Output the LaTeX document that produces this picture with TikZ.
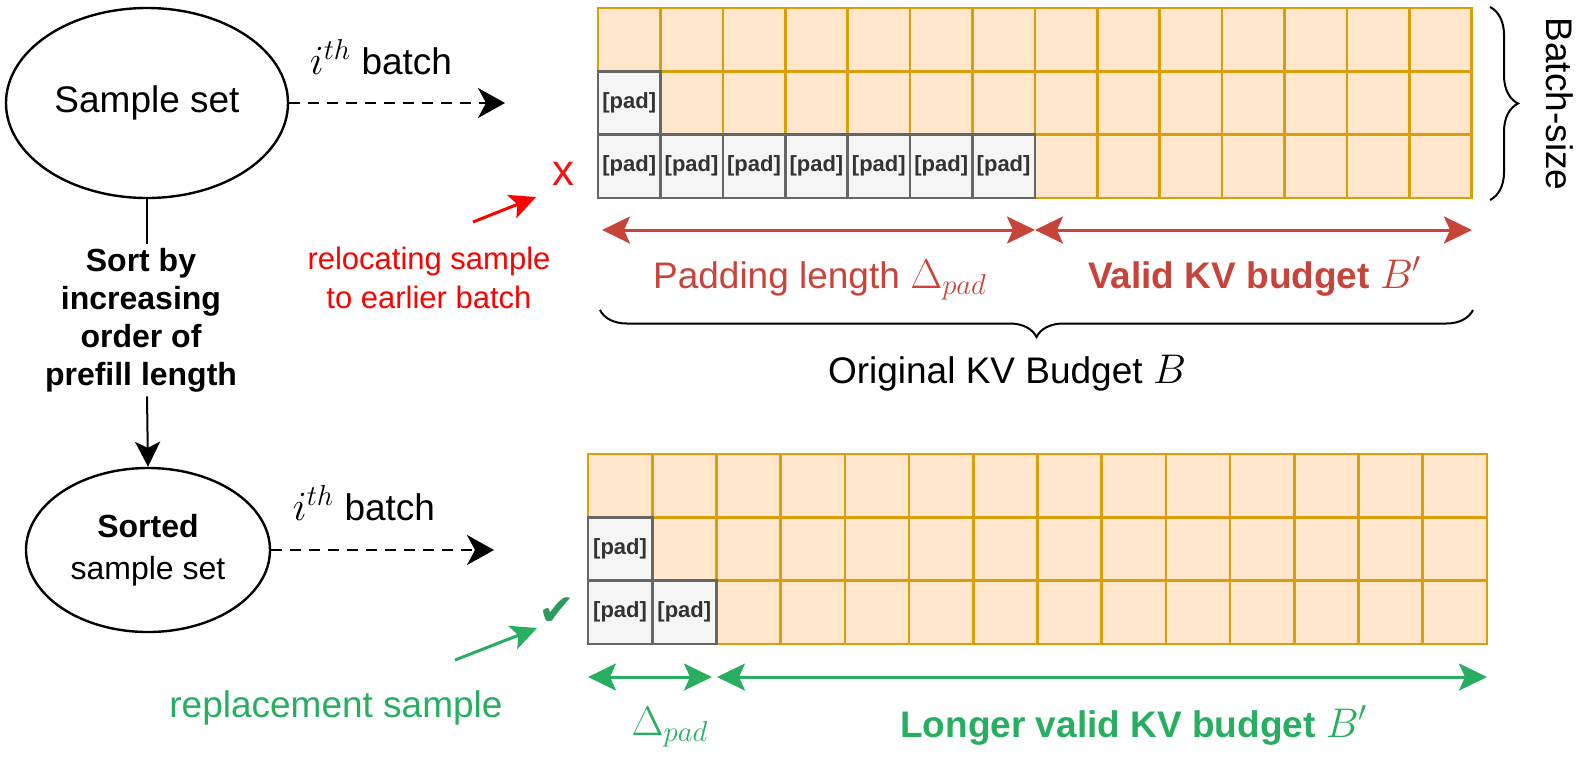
\documentclass[tikz,border=0pt]{standalone}
\usepackage[no-math]{fontspec}
\setmainfont{Liberation Sans}
\newfontfamily\symfont{DejaVu Sans}
\usetikzlibrary{arrows.meta,shapes.geometric,decorations.pathreplacing}

\definecolor{kvfill}{HTML}{FFE6CC}
\definecolor{kvline}{HTML}{D99E08}
\definecolor{padfill}{HTML}{F5F5F5}
\definecolor{padline}{HTML}{666666}
\definecolor{padtext}{HTML}{333333}
\definecolor{dimred}{HTML}{C8443A}
\definecolor{xred}{HTML}{F01515}
\definecolor{okgreen}{HTML}{27AE60}
\definecolor{tickgreen}{HTML}{2E9A5E}

% math in the labels is set a bit larger than the text
\newcommand{\kvmath}[1]{{\fontsize{22}{26}\selectfont$#1$}}

\begin{document}
\begin{tikzpicture}[x=0.5pt,y=-0.5pt,
  kvcell/.style={draw=kvline, fill=kvfill, line width=1.3pt, minimum width=#1,
    minimum height=31.65pt, inner sep=0pt, outer sep=0pt},
  padcell/.style={kvcell=#1, draw=padline, fill=padfill, text=padtext,
    font=\fontsize{11}{12}\selectfont\bfseries},
  bigtext/.style={font=\fontsize{18.5}{22}\selectfont},
  setnode/.style={ellipse, draw, line width=1.2pt, inner sep=0pt, align=center},
  batcharrow/.style={-{Stealth[length=13.5pt,width=15pt,inset=4pt]}, line width=1.25pt,
    dash pattern=on 5.5pt off 4pt},
  dimarrow/.style={{Stealth[length=14pt,width=13.5pt,inset=3pt]}-{Stealth[length=14pt,width=13.5pt,inset=3pt]},
    line width=1.5pt},
  ptr/.style={-{Stealth[length=13pt,width=12.5pt,inset=3pt]}, line width=1.5pt},
  bracket/.style={decorate, decoration={brace, amplitude=#1}, line width=1pt}]
\useasboundingbox (0,0) rectangle (1588,757);

% sample sets on the left
\node[setnode, minimum width=141pt, minimum height=95pt, bigtext] (sample) at (147,103) {Sample set};
\node[setnode, minimum width=122pt, minimum height=82pt, font=\fontsize{16}{21}\selectfont]
  (sorted) at (148,550) {\textbf{Sorted}\\sample set};
\node[font=\fontsize{16}{19}\selectfont\bfseries, align=center, fill=white, inner sep=2pt]
  (sortlbl) at (141,320) {Sort by\\increasing\\order of\\prefill length};
\draw[line width=1pt] (sample.south) -- (sample.south |- sortlbl.north);
\draw[line width=1pt, -{Stealth[length=12.5pt,width=12.5pt,inset=3pt]}]
  (sample.south |- sortlbl.south) -- (sorted.north);

\coordinate (in1) at (505,103);
\draw[batcharrow] (sample.east) -- (in1);
\node[bigtext] (batch1) at (381,57) {\kvmath{i^{th}} batch};
\coordinate (in2) at (494,550);
\draw[batcharrow] (sorted.east) -- (in2);
\node[bigtext] (batch2) at (364,503) {\kvmath{i^{th}} batch};

% original batch
\foreach \r in {1,2,3}
  \foreach \c in {0,...,13}
    \node[kvcell=31.2pt] (orig \r-\c) at ({629.2+62.4*\c},{63.3*\r-23.65}) {};
\node[padcell=31.2pt] (opad 2-0) at (629.2,102.95) {[pad]};
\foreach \c in {0,...,6}
  \node[padcell=31.2pt] (opad 3-\c) at ({629.2+62.4*\c},166.25) {[pad]};

\draw[bracket=14pt] (1490,7) -- (1490,200);
\node[bigtext, rotate=-90] (bsize) at (1560,104) {Batch-size};

\coordinate (padL) at (602,230);
\coordinate (padR) at (1035,230);
\coordinate (validR) at (1472,230);
\draw[dimarrow, dimred] (padL) -- (padR);
\draw[dimarrow, dimred] (padR) -- (validR);
\node[bigtext, text=dimred, anchor=base] (padlen) at (820,288) {Padding length \kvmath{\Delta_{pad}}};
\node[bigtext, text=dimred, anchor=base] (valid) at (1255,288) {\textbf{Valid KV budget} \kvmath{B'}};
\draw[bracket=13.5pt] (1473,310) -- (600,310);
\node[bigtext, anchor=base] (budget) at (1007,383) {Original KV Budget \kvmath{B}};

\node[text=xred, font=\fontsize{22}{24}\selectfont, inner sep=1pt] (fail) at (563,174) {x};
\coordinate (relocTail) at (473,222);
\coordinate (relocHead) at (536,197);
\draw[ptr, red] (relocTail) -- (relocHead);
\node[text=red, font=\fontsize{15.5}{19.5}\selectfont, align=center] (reloc) at (429,278)
  {relocating sample\\to earlier batch};

% sorted batch
\foreach \r in {1,2,3}
  \foreach \c in {0,...,13}
    \node[kvcell=32.1pt] (sort \r-\c) at ({620.1+64.2*\c},{422.35+63.3*\r}) {};
\node[padcell=32.1pt] (spad 2-0) at (620.1,548.95) {[pad]};
\foreach \c in {0,1}
  \node[padcell=32.1pt] (spad 3-\c) at ({620.1+64.2*\c},612.25) {[pad]};

\coordinate (dpadL) at (588,677);
\coordinate (dpadR) at (712,677);
\coordinate (longL) at (717,677);
\coordinate (longR) at (1487,677);
\draw[dimarrow, okgreen] (dpadL) -- (dpadR);
\draw[dimarrow, okgreen] (longL) -- (longR);
\node[bigtext, text=okgreen, anchor=base] (dpad) at (670,735) {\kvmath{\Delta_{pad}}};
\node[bigtext, text=okgreen, anchor=base] (longer) at (1134,737) {\textbf{Longer valid KV budget} \kvmath{B'}};

\node[text=tickgreen, font=\symfont\fontsize{22}{24}\selectfont, inner sep=0pt] (ok) at (557,612) {✔};
\coordinate (replTail) at (455,660);
\coordinate (replHead) at (537,628);
\draw[ptr, okgreen] (replTail) -- (replHead);
\node[bigtext, text=okgreen, anchor=base] (repl) at (336,717) {replacement sample};
\end{tikzpicture}
\end{document}
